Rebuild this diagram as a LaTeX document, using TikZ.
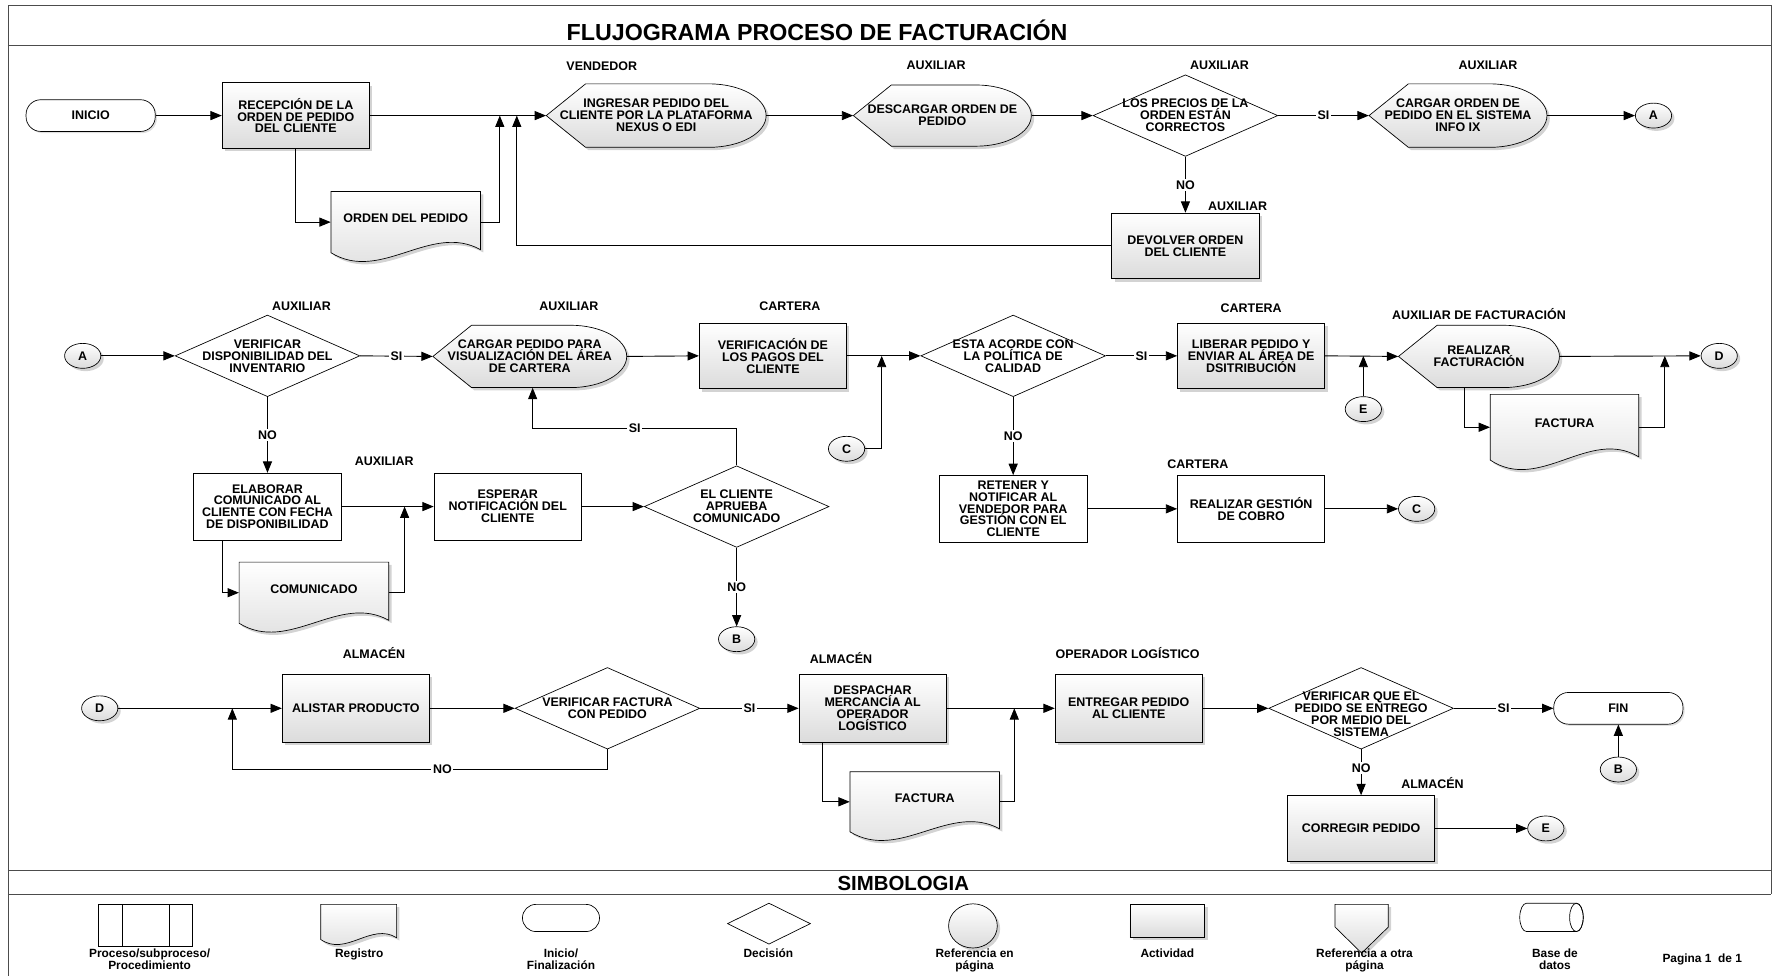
\documentclass[tikz,border=0pt]{standalone}
\usepackage{fontspec}
\setmainfont{Liberation Sans}
\usetikzlibrary{arrows.meta,shapes.geometric,shadows}

\newcommand{\boxfont}{\fontsize{11}{10.5}\selectfont\bfseries}
\newcommand{\legfont}{\fontsize{10.5}{11}\selectfont\bfseries}

\tikzset{
    txt/.style={font=\boxfont, align=center, inner sep=0pt},
    role/.style={txt},
    grayfill/.style={draw, line width=0.6pt, top color=white, bottom color=black!14,
        drop shadow={shadow xshift=2.5pt, shadow yshift=-2.5pt, opacity=0.35}},
    actbox/.style={rectangle, grayfill, txt, minimum width=130pt, minimum height=58pt},
    plainbox/.style={rectangle, draw, line width=0.6pt, fill=white, txt, minimum width=130pt, minimum height=59pt},
    decision/.style={diamond, draw, line width=0.6pt, fill=white, inner sep=0pt, minimum width=163pt, minimum height=72pt},
    refpoint/.style={ellipse, grayfill, txt, minimum width=32pt, minimum height=22pt},
    terminal/.style={rectangle, rounded corners=13pt, draw, line width=0.6pt, fill=white, txt,
        minimum width=114pt, minimum height=28pt,
        drop shadow={shadow xshift=1.5pt, shadow yshift=-1.5pt, opacity=0.25}},
    flow/.style={line width=0.8pt, -{Triangle[length=10pt,width=8pt]}},
    yesno/.style={txt, fill=white, inner sep=1.5pt},
    frame/.style={line width=0.7pt, black!70}
}

% display symbol: name, left, right, top, bottom, text
\newcommand{\dispshape}[6]{%
    \pgfmathsetmacro\Ht{#5-#4}
    \pgfmathsetmacro\Mid{(#4+#5)/2}
    \pgfmathsetmacro\Tip{#2+0.62*\Ht}
    \pgfmathsetmacro\Rx{0.9*\Ht}
    \pgfmathsetmacro\Ry{\Ht/2}
    \pgfmathsetmacro\Arc{#3-\Rx}
        % pointed left end, round right end
        \path[grayfill] (#2,\Mid) -- (\Tip,#4) -- (\Arc,#4)
            arc[start angle=90, end angle=-90, x radius=\Rx pt, y radius=\Ry pt]
            -- (\Tip,#5) -- cycle;
        % text and anchors
        \node[txt, minimum width={(#3-#2)*1pt}, minimum height=\Ht pt] (#1) at ({(#2+#3)/2},\Mid) {#6};
}

% document symbol: name, left, right, top, bottom, text
\newcommand{\docshape}[6]{%
    \pgfmathsetmacro\Wd{#3-#2}
    \pgfmathsetmacro\Ht{#5-#4}
    \pgfmathsetmacro\Mid{(#4+#5)/2}
    \pgfmathsetmacro\Amp{0.5*\Ht}
        % wavy bottom
        \path[grayfill] (#2,#4) -- (#3,#4) -- (#3,#5-0.05*\Ht)
            .. controls ({#3-\Wd/3},{#5-\Amp}) and ({#2+\Wd/3},{#5+\Amp}) .. (#2,#5) -- cycle;
        % text sits a little above the middle
        \node[txt, minimum width=\Wd pt, minimum height=\Ht pt,
            label={[txt, yshift=3.5pt]center:#6}] (#1) at ({(#2+#3)/2},\Mid) {};
}

\begin{document}
\begin{tikzpicture}[x=1pt, y=-1pt]
\useasboundingbox (0,0) rectangle (1568,861);

% page frame
\draw[frame] (7,861) -- (7,5) -- (1563,5) -- (1563,789);
\draw[frame] (7,40) -- (1563,40);
\draw[frame] (7,768) -- (1563,768);
\draw[frame] (7,789) -- (1563,789);
\node[font=\fontsize{20.5}{24}\selectfont\bfseries] (title) at (721,27) {FLUJOGRAMA PROCESO DE FACTURACIÓN};
\node[font=\fontsize{18}{20}\selectfont\bfseries] (simb) at (797,780) {SIMBOLOGIA};

% responsible of each step
\foreach \nm/\x/\y/\who in {rvend/531/58/VENDEDOR, raux1/826/58/AUXILIAR, raux2/1076/58/AUXILIAR,
        raux3/1313/58/AUXILIAR, raux4/1092/182/AUXILIAR, raux5/266/270/AUXILIAR, raux6/502/270/AUXILIAR,
        rcar1/697/270/CARTERA, rcar2/1104/272/CARTERA, rfac/1305/277/AUXILIAR DE FACTURACIÓN,
        raux7/339/407/AUXILIAR, rcar3/1057/410/CARTERA, ralm1/330/576/ALMACÉN, ralm2/742/581/ALMACÉN,
        rope/995/576/OPERADOR LOGÍSTICO, ralm3/1264/691/ALMACÉN}
    \node[role] (\nm) at (\x,\y) {\who};

% first row
\node[terminal] (inicio) at (80,102) {INICIO};
\node[actbox] (recep) at (261,102) {RECEPCIÓN DE LA\\ORDEN DE PEDIDO\\DEL CLIENTE};
\docshape{ordped}{292}{424}{169}{223}{ORDEN DEL PEDIDO}
\dispshape{ingreso}{482}{676}{74}{130}{INGRESAR PEDIDO DEL\\CLIENTE POR LA PLATAFORMA\\NEXUS O EDI}
\dispshape{descarga}{753}{910}{75}{129}{DESCARGAR ORDEN DE\\PEDIDO}
\node[decision, label={[txt]center:LOS PRECIOS DE LA\\ORDEN ESTÁN\\CORRECTOS}] (precios) at (1046,102) {};
\dispshape{cargaord}{1208}{1365}{74}{130}{CARGAR ORDEN DE\\PEDIDO EN EL SISTEMA\\INFO IX}
\node[refpoint] (refA1) at (1459,102) {A};
\node[actbox] (devol) at (1046,217) {DEVOLVER ORDEN\\DEL CLIENTE};
\coordinate (j1) at (441,102);
\coordinate (j2) at (456,102);

% second row
\node[refpoint] (refA2) at (73,314) {A};
\node[decision, label={[txt]center:VERIFICAR\\DISPONIBILIDAD DEL\\INVENTARIO}] (dispo) at (236,314) {};
\dispshape{cargaped}{382}{553}{287}{342}{CARGAR PEDIDO PARA\\VISUALIZACIÓN DEL ÁREA\\DE CARTERA}
\node[actbox] (pagos) at (682,314) {VERIFICACIÓN DE\\LOS PAGOS DEL\\CLIENTE};
\node[refpoint] (refC1) at (747,396) {C};
\node[decision, label={[txt]center:ESTA ACORDE CON\\LA POLÍTICA DE\\CALIDAD}] (politica) at (894,314) {};
\node[actbox] (liberar) at (1104,314) {LIBERAR PEDIDO Y\\ENVIAR AL ÁREA DE\\DSITRIBUCIÓN};
\node[refpoint] (refE1) at (1203,361) {E};
\dispshape{factur}{1234}{1376}{287}{342}{REALIZAR\\FACTURACIÓN}
\docshape{factura1}{1315}{1446}{348}{406}{FACTURA}
\node[refpoint] (refD1) at (1517,314) {D};
\node[plainbox] (elabora) at (236,447) {ELABORAR\\COMUNICADO AL\\CLIENTE CON FECHA\\DE DISPONIBILIDAD};
\docshape{comunic}{211}{343}{496}{550}{COMUNICADO}
\node[plainbox] (espera) at (448,447) {ESPERAR\\NOTIFICACIÓN DEL\\CLIENTE};
\node[decision, label={[txt]center:EL CLIENTE\\APRUEBA\\COMUNICADO}] (aprueba) at (650,447) {};
\node[refpoint] (refB1) at (650,564) {B};
\node[plainbox] (retener) at (894,449) {RETENER Y\\NOTIFICAR AL\\VENDEDOR PARA\\GESTIÓN CON EL\\CLIENTE};
\node[plainbox] (cobro) at (1104,449) {REALIZAR GESTIÓN\\DE COBRO};
\node[refpoint] (refC2) at (1250,449) {C};
\coordinate (j3) at (778,314);
\coordinate (j4) at (1292,342);
\coordinate (j5) at (1469,314);
\coordinate (j6) at (196,476.5);
\coordinate (j7) at (357,447);
\coordinate (k1) at (470,378);

% third row
\node[refpoint] (refD2) at (88,625) {D};
\node[actbox, minimum height=60pt] (alistar) at (314,625) {ALISTAR PRODUCTO};
\node[decision, label={[txt]center:VERIFICAR FACTURA\\CON PEDIDO}] (verfact) at (536,625) {};
\node[actbox, minimum height=60pt] (despacho) at (770,625) {DESPACHAR\\MERCANCÍA AL\\OPERADOR\\LOGÍSTICO};
\docshape{factura2}{750}{882}{681}{734}{FACTURA}
\node[actbox, minimum height=60pt] (entrega) at (996,625) {ENTREGAR PEDIDO\\AL CLIENTE};
\node[decision, label={[txt, yshift=-5pt]center:VERIFICAR QUE EL\\PEDIDO SE ENTREGO\\POR MEDIO DEL\\SISTEMA}] (sistema) at (1201,625) {};
\node[terminal] (fin) at (1428,625) {FIN};
\node[refpoint] (refB2) at (1428,679) {B};
\node[actbox] (corrige) at (1201,731) {CORREGIR PEDIDO};
\node[refpoint] (refE2) at (1364,731) {E};
\coordinate (k2) at (205,679);
\coordinate (j8) at (205,625);
\coordinate (j9) at (726,655);
\coordinate (j10) at (895,625);

% connectors, first row
\draw[flow] (inicio.east) -- (recep.west);
\draw[flow] (recep.east) -- (ingreso.west);
\draw[flow] (recep.south) |- (ordped.west);
\draw[flow] (ordped.east) -| (j1);
\draw[flow] (ingreso.east) -- (descarga.west);
\draw[flow] (descarga.east) -- (precios.west);
\draw[flow] (precios.east) -- node[yesno]{SI} (cargaord.west);
\draw[flow] (cargaord.east) -- (refA1.west);
\draw[flow] (precios.south) -- node[yesno]{NO} (devol.north);
\draw[flow] (devol.west) -| (j2);

% connectors, second row
\draw[flow] (refA2.east) -- (dispo.west);
\draw[flow] (dispo.east) -- node[yesno]{SI} (cargaped.west);
\draw[flow] (cargaped.east) -- (pagos.west);
\draw[flow] (pagos.east) -- (politica.west);
\draw[flow] (refC1.east) -| (j3);
\draw[flow] (politica.east) -- node[yesno]{SI} (liberar.west);
\draw[flow] (liberar.east) -- (factur.west);
\draw[flow] (refE1.north) -- (refE1 |- liberar.east);
\draw[flow] (factur.east) -- (refD1.west);
\draw[flow] (j4) |- (factura1.west);
\draw[flow] (factura1.east) -| (j5);
\draw[flow] (dispo.south) -- node[yesno]{NO} (elabora.north);
\draw[flow] (elabora.east) -- (espera.west);
\draw[flow] (j6) |- (comunic.west);
\draw[flow] (comunic.east) -| (j7);
\draw[flow] (espera.east) -- (aprueba.west);
\draw[flow] (aprueba.north) |- node[yesno, pos=0.75]{SI} (k1) -- (k1 |- cargaped.south);
\draw[flow] (aprueba.south) -- node[yesno]{NO} (refB1.north);
\draw[flow] (politica.south) -- node[yesno]{NO} (retener.north);
\draw[flow] (retener.east) -- (cobro.west);
\draw[flow] (cobro.east) -- (refC2.west);

% connectors, third row
\draw[flow] (refD2.east) -- (alistar.west);
\draw[flow] (verfact.south) |- node[yesno, pos=0.72]{NO} (k2) -- (j8);
\draw[flow] (alistar.east) -- (verfact.west);
\draw[flow] (verfact.east) -- node[yesno]{SI} (despacho.west);
\draw[flow] (despacho.east) -- (entrega.west);
\draw[flow] (j9) |- (factura2.west);
\draw[flow] (factura2.east) -| (j10);
\draw[flow] (entrega.east) -- (sistema.west);
\draw[flow] (sistema.east) -- node[yesno]{SI} (fin.west);
\draw[flow] (refB2.north) -- (fin.south);
\draw[flow] (sistema.south) -- node[yesno, pos=0.4]{NO} (corrige.north);
\draw[flow] (corrige.east) -- (refE2.west);

% legend symbols
\draw[line width=0.6pt, fill=white] (87,798) rectangle (170,835);
\draw[line width=0.6pt] (108,798) -- (108,835) (149,798) -- (149,835);
\docshape{legreg}{283}{350}{798}{829}{}
\draw[line width=0.6pt, fill=white, rounded corners=12pt] (461,798) rectangle (529,822);
\draw[line width=0.6pt, fill=white] (642,815) -- (678.5,797) -- (715,815) -- (678.5,833) -- cycle;
\path[grayfill] (858.5,817) ellipse[x radius=21.5pt, y radius=19.5pt];
\path[grayfill] (997,798) rectangle (1063,827);
\path[grayfill] (1178,798) -- (1225,798) -- (1225,818) -- (1201.5,841) -- (1178,818) -- cycle;
\draw[line width=0.6pt, fill=white] (1347,797) -- (1391,797)
    arc[start angle=90, end angle=-90, x radius=6pt, y radius=12.5pt] -- (1347,822)
    arc[start angle=270, end angle=90, x radius=6pt, y radius=12.5pt] -- cycle;
\draw[line width=0.6pt] (1391,809.5) ellipse[x radius=6pt, y radius=12.5pt];

% legend texts
\node[txt, font=\legfont, anchor=north] (l1) at (132,837) {Proceso/subproceso/\\Procedimiento};
\node[txt, font=\legfont, anchor=north] (l2) at (317,837) {Registro};
\node[txt, font=\legfont, anchor=north] (l3) at (495,837) {Inicio/\\Finalización};
\node[txt, font=\legfont, anchor=north] (l4) at (678,837) {Decisión};
\node[txt, font=\legfont, anchor=north] (l5) at (860,837) {Referencia en\\página};
\node[txt, font=\legfont, anchor=north] (l6) at (1030,837) {Actividad};
\node[txt, font=\legfont, anchor=north] (l7) at (1204,837) {Referencia a otra\\página};
\node[txt, font=\legfont, anchor=north] (l8) at (1372,837) {Base de\\datos};
\node[txt, font=\legfont] (l9) at (1502,847) {Pagina 1\ \ de 1};
\end{tikzpicture}
\end{document}
